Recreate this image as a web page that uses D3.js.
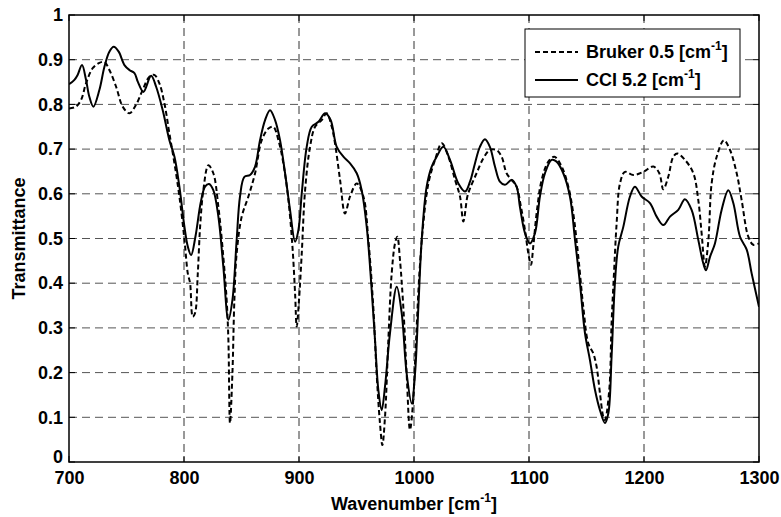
<!DOCTYPE html>
<html><head><meta charset="utf-8">
<script src="https://cdn.jsdelivr.net/npm/d3@7"></script>
<style>
body{margin:0;background:#fff;}
text{font-family:"Liberation Sans",Arial,sans-serif;font-weight:bold;}
</style></head>
<body><svg id="c" width="781" height="517"></svg>
<script>
const xTicks=[700,800,900,1000,1100,1200,1300];
const yTicks=[0,0.1,0.2,0.3,0.4,0.5,0.6,0.7,0.8,0.9,1];
const yTickLabels=["0","0.1","0.2","0.3","0.4","0.5","0.6","0.7","0.8","0.9","1"];
const seriesNames=["Bruker 0.5 [cm","CCI 5.2 [cm"];

const wnCCI=[700,704.7,707.5,711.3,714.8,717.7,721.2,726.4,730.8,735.1,738.9,743.2,748.2,752.5,756.9,759.8,764.7,771.4,775.7,781.5,787.3,791.7,796,800.4,803.3,806.2,810,814.5,818.3,821.8,825.5,829.9,834.2,838.6,842.1,845.8,848.7,852.5,857.4,861.8,866.1,870.5,874.8,879.2,883.5,887.9,892.2,896.6,899.5,902.4,906.7,911.1,916.9,922.7,927.5,932.8,938.6,944.4,950.2,954.5,958.9,963.2,966.1,969,971.9,974.8,979.1,985,989.3,993.6,998,1000.9,1003.8,1006.7,1011,1015.4,1019.7,1025.5,1031.3,1038.6,1044.4,1048.7,1053,1057.3,1061.7,1066,1070.4,1074.7,1079.1,1084.9,1089.2,1092.1,1096.5,1100.8,1105.2,1109.5,1113.9,1119.7,1124,1129.8,1135.6,1140,1144.3,1148.7,1153,1157.4,1161.7,1166,1169,1171.8,1174.7,1177.6,1182,1187.8,1192.1,1197.9,1205.2,1211,1216.8,1222.6,1229.8,1235.6,1241.4,1247.2,1251.6,1253.9,1257.4,1261.7,1267.5,1273.3,1277.7,1283.5,1289.3,1293.6,1300];
const trCCI=[0.845,0.855,0.866,0.888,0.855,0.817,0.795,0.832,0.884,0.918,0.929,0.918,0.888,0.877,0.87,0.851,0.828,0.864,0.84,0.787,0.72,0.683,0.616,0.526,0.482,0.463,0.505,0.58,0.616,0.622,0.608,0.549,0.437,0.318,0.362,0.497,0.594,0.638,0.642,0.661,0.72,0.765,0.787,0.765,0.72,0.646,0.564,0.493,0.519,0.601,0.705,0.75,0.761,0.78,0.765,0.705,0.683,0.668,0.646,0.608,0.526,0.385,0.273,0.161,0.116,0.169,0.288,0.392,0.333,0.198,0.131,0.198,0.347,0.497,0.616,0.661,0.683,0.705,0.676,0.623,0.605,0.627,0.668,0.705,0.722,0.705,0.661,0.627,0.62,0.631,0.616,0.571,0.512,0.489,0.512,0.594,0.646,0.676,0.672,0.646,0.594,0.497,0.4,0.288,0.228,0.161,0.116,0.087,0.109,0.235,0.4,0.482,0.526,0.594,0.616,0.594,0.579,0.549,0.53,0.549,0.564,0.588,0.564,0.497,0.444,0.429,0.459,0.489,0.564,0.608,0.579,0.504,0.475,0.422,0.347];

const wnBruker=[700,706,710.5,714.8,720.6,726.4,730.8,735.1,740.9,746.7,752.5,758.3,764,769.9,774.2,778.6,783,787.3,791.7,796,800.4,803.3,805.3,807.6,809.6,812,814,816.8,821.2,825.5,829.9,834.2,837.1,838.6,840,842.1,843.8,845.8,850.2,856,861.8,867.6,873.4,877.7,882.1,886.4,890.8,894.3,896.6,898,900,902.4,905.3,909.6,914,919.8,924.1,928.5,931.3,935.7,940,944.4,950.2,956,960.3,964.6,967.5,970.4,972.5,974.8,977.7,980.6,983.5,985.5,987.8,990.7,993.6,996.5,998.9,1001.8,1004.7,1008.1,1012.5,1018.3,1024.1,1029.9,1035.7,1040,1042.9,1046.4,1048.7,1054.4,1060.2,1066,1071.8,1076.2,1080.5,1084.9,1089.2,1093,1096.5,1099.4,1101.7,1103.7,1106.6,1111,1116.8,1122,1128.4,1134.2,1138.5,1142.9,1147.2,1151.6,1155.9,1158.8,1161.7,1164.6,1166,1169.8,1171.8,1173.9,1176.2,1179.1,1183.4,1190.7,1199.4,1208.1,1213.3,1216.8,1221.1,1225.5,1229,1235.6,1242.9,1247.2,1250.1,1253,1256,1258.8,1263.2,1269.5,1274.8,1280.6,1284.9,1290.7,1295,1300];
const trBruker=[0.791,0.795,0.81,0.847,0.881,0.893,0.895,0.877,0.84,0.795,0.78,0.799,0.832,0.862,0.866,0.847,0.802,0.735,0.668,0.594,0.497,0.422,0.4,0.325,0.333,0.422,0.526,0.608,0.664,0.646,0.571,0.459,0.362,0.273,0.087,0.198,0.362,0.467,0.549,0.594,0.646,0.72,0.746,0.75,0.72,0.668,0.586,0.482,0.377,0.303,0.362,0.467,0.608,0.705,0.75,0.765,0.78,0.75,0.713,0.631,0.556,0.594,0.623,0.594,0.497,0.347,0.198,0.087,0.038,0.101,0.273,0.422,0.489,0.504,0.452,0.347,0.198,0.072,0.124,0.273,0.422,0.534,0.623,0.676,0.713,0.683,0.631,0.594,0.538,0.594,0.612,0.646,0.679,0.698,0.698,0.683,0.646,0.631,0.616,0.571,0.519,0.467,0.441,0.482,0.556,0.631,0.672,0.683,0.661,0.616,0.556,0.459,0.347,0.265,0.243,0.213,0.154,0.101,0.094,0.161,0.31,0.422,0.534,0.623,0.649,0.642,0.649,0.661,0.646,0.61,0.638,0.683,0.69,0.676,0.646,0.586,0.512,0.437,0.497,0.623,0.683,0.72,0.698,0.646,0.586,0.504,0.486,0.489];

const L=69,R=759,T=15,B=462;
const svg=d3.select("#c");
const x=d3.scaleLinear().domain([700,1300]).range([L,R]);
const y=d3.scaleLinear().domain([0,1]).range([B,T]);

svg.append("defs").append("clipPath").attr("id","clip").append("rect")
  .attr("x",L).attr("y",T).attr("width",R-L).attr("height",B-T);

// grid
const g=svg.append("g");
g.selectAll("line.gx").data(xTicks.slice(1,-1)).enter().append("line")
  .attr("x1",d=>x(d)).attr("x2",d=>x(d)).attr("y1",T).attr("y2",B)
  .attr("stroke","#333").attr("stroke-width",1).attr("stroke-dasharray","8,5");
g.selectAll("line.gy").data(yTicks.slice(1,-1)).enter().append("line")
  .attr("y1",d=>y(d)).attr("y2",d=>y(d)).attr("x1",L).attr("x2",R)
  .attr("stroke","#555").attr("stroke-width",1).attr("stroke-dasharray","8,5");

// axes
const xAxis=d3.axisBottom(x).tickValues(xTicks).tickSize(0).tickPadding(9).tickFormat(d3.format("d"));
const ax=svg.append("g").attr("transform",`translate(0,${B})`).call(xAxis);
ax.select(".domain").remove();
ax.selectAll("text").attr("font-size",18).attr("fill","#000").attr("font-family","Liberation Sans, Arial, sans-serif").attr("font-weight","bold");

const yAxis=d3.axisLeft(y).tickValues(yTicks).tickSize(0).tickPadding(6).tickFormat((d,i)=>yTickLabels[i]);
const ay=svg.append("g").attr("transform",`translate(${L},0)`).call(yAxis);
ay.select(".domain").remove();
ay.selectAll("text").attr("font-size",18).attr("fill","#000").attr("font-family","Liberation Sans, Arial, sans-serif").attr("font-weight","bold")
  .attr("dy",(d,i)=>i===0?"0.0em":"0.32em");

// data lines
const lineGen=d3.line().x(d=>x(d[0])).y(d=>y(d[1])).curve(d3.curveCatmullRom.alpha(0.5));
const cci=wnCCI.map((w,i)=>[w,trCCI[i]]);
const bru=wnBruker.map((w,i)=>[w,trBruker[i]]);
const lg=svg.append("g").attr("clip-path","url(#clip)");
lg.append("path").datum(bru).attr("d",lineGen).attr("fill","none").attr("stroke","#000")
  .attr("stroke-width",2).attr("stroke-dasharray","5,3");
lg.append("path").datum(cci).attr("d",lineGen).attr("fill","none").attr("stroke","#000")
  .attr("stroke-width",2);

// frame
svg.append("rect").attr("x",L).attr("y",T).attr("width",R-L).attr("height",B-T)
  .attr("fill","none").attr("stroke","#000").attr("stroke-width",1.5);

// inward ticks
xTicks.forEach(t=>{
  svg.append("line").attr("x1",x(t)).attr("x2",x(t)).attr("y1",B).attr("y2",B-6).attr("stroke","#000");
  svg.append("line").attr("x1",x(t)).attr("x2",x(t)).attr("y1",T).attr("y2",T+6).attr("stroke","#000");
});
yTicks.forEach(t=>{
  svg.append("line").attr("x1",L).attr("x2",L+6).attr("y1",y(t)).attr("y2",y(t)).attr("stroke","#000");
  svg.append("line").attr("x1",R).attr("x2",R-6).attr("y1",y(t)).attr("y2",y(t)).attr("stroke","#000");
});

// axis titles
const xt=svg.append("text").attr("x",(L+R)/2).attr("y",510).attr("text-anchor","middle").attr("font-size",18);
xt.append("tspan").text("Wavenumber [cm");
xt.append("tspan").attr("font-size",12).attr("dy",-8).text("-1");
xt.append("tspan").attr("dy",8).text("]");
svg.append("text").attr("transform",`translate(25,${(T+B)/2}) rotate(-90)`).attr("text-anchor","middle")
  .attr("font-size",18).text("Transmittance");

// legend
const leg=svg.append("g");
leg.append("rect").attr("x",525).attr("y",29).attr("width",215).attr("height",68)
  .attr("fill","#fff").attr("stroke","#000").attr("stroke-width",1);
const rows=[{dash:"5,3",y:52},{dash:null,y:80}];
rows.forEach((r,i)=>{
  const ln=leg.append("line").attr("x1",535).attr("x2",578).attr("y1",r.y).attr("y2",r.y)
    .attr("stroke","#000").attr("stroke-width",2);
  if(r.dash) ln.attr("stroke-dasharray",r.dash);
  const t=leg.append("text").attr("x",586).attr("y",r.y+6).attr("font-size",18);
  t.append("tspan").text(seriesNames[i]);
  t.append("tspan").attr("font-size",12).attr("dy",-8).text("-1");
  t.append("tspan").attr("dy",8).text("]");
});
</script></body></html>
